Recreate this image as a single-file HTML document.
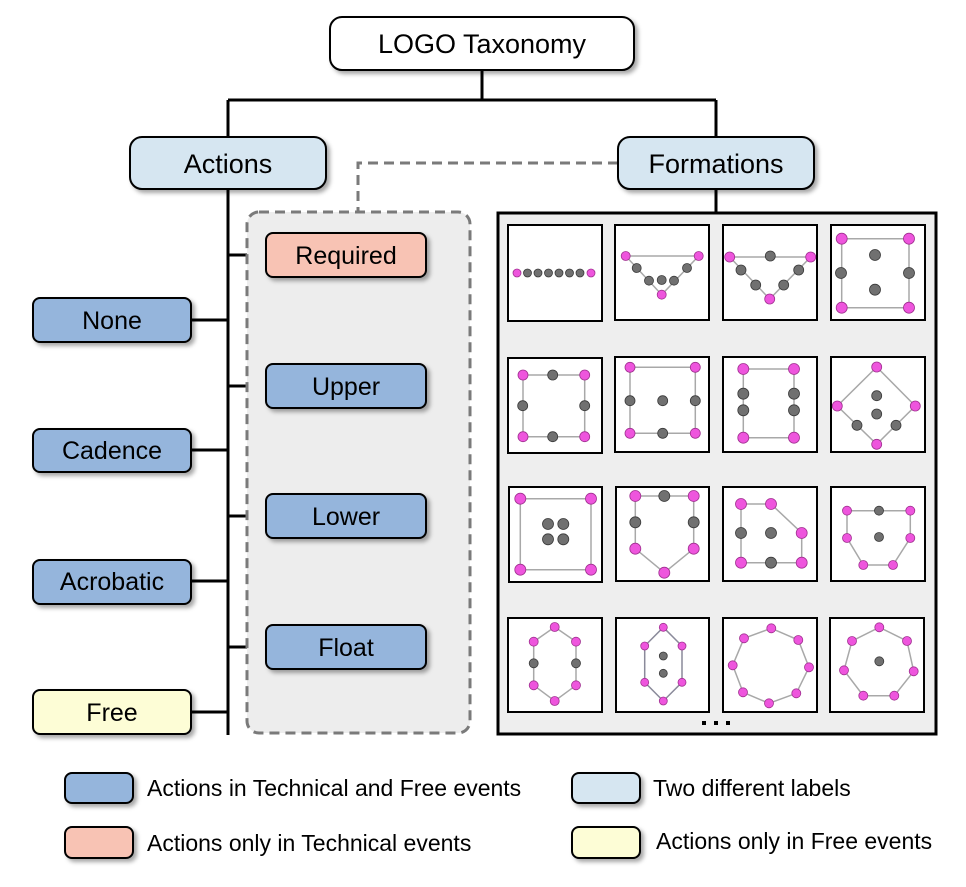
<!DOCTYPE html>
<html><head><meta charset="utf-8"><style>
body{margin:0;background:#fff}
svg{display:block}
text{font-family:"Liberation Sans",Arial,sans-serif;fill:#000}
.p{fill:#ee55dd;stroke:#a03090;stroke-width:0.8}
.g{fill:#707070;stroke:#3a3a3a;stroke-width:0.8}
.l{fill:none;stroke:#a8a8a8;stroke-width:1.5}
.t{fill:#fff;stroke:#000;stroke-width:2}
.bx{stroke:#000;stroke-width:2}
</style></head><body>
<svg width="966" height="887" viewBox="0 0 966 887" xmlns="http://www.w3.org/2000/svg">
<defs><filter id="sh" x="-10%" y="-10%" width="130%" height="140%"><feDropShadow dx="3" dy="3" stdDeviation="2" flood-color="#000" flood-opacity="0.35"/></filter></defs>

<g stroke="#000" stroke-width="3" fill="none">
<path d="M482 70V100M228 100H716M228 100V137M716 100V137M716 189V212M228 189V735"/>
<path d="M191 320H228M191 450H228M191 581H228M191 712H228M228 255H266M228 386H266M228 516H266M228 647H266"/>
</g>
<rect x="247" y="212" width="223" height="521" rx="12" fill="#ededed" stroke="#7a7a7a" stroke-width="3" stroke-dasharray="10,6"/>
<path d="M618 163H358V212" stroke="#7a7a7a" stroke-width="3" stroke-dasharray="10,6" fill="none"/>

<g filter="url(#sh)" class="bx">
<rect x="330" y="17" width="304" height="53" rx="12" fill="#fff"/>
<rect x="130" y="137" width="196" height="52" rx="12" fill="#d6e6f1"/>
<rect x="618" y="137" width="196" height="52" rx="12" fill="#d6e6f1"/>
<rect x="33" y="298" width="158" height="44" rx="7" fill="#95b5dc"/>
<rect x="33" y="429" width="158" height="43" rx="7" fill="#95b5dc"/>
<rect x="33" y="560" width="158" height="44" rx="7" fill="#95b5dc"/>
<rect x="33" y="690" width="158" height="44" rx="7" fill="#fdfdd6"/>
<rect x="266" y="233" width="160" height="44" rx="7" fill="#f8c3b4"/>
<rect x="266" y="364" width="160" height="44" rx="7" fill="#95b5dc"/>
<rect x="266" y="494" width="160" height="44" rx="7" fill="#95b5dc"/>
<rect x="266" y="625" width="160" height="44" rx="7" fill="#95b5dc"/>
</g>
<g text-anchor="middle">
<text x="482" y="53" font-size="27">LOGO Taxonomy</text>
<text x="228" y="173" font-size="27">Actions</text>
<text x="716" y="173" font-size="27">Formations</text>
<text x="112" y="329" font-size="25">None</text>
<text x="112" y="459" font-size="25">Cadence</text>
<text x="112" y="590" font-size="25">Acrobatic</text>
<text x="112" y="721" font-size="25">Free</text>
<text x="346" y="264" font-size="25">Required</text>
<text x="346" y="395" font-size="25">Upper</text>
<text x="346" y="525" font-size="25">Lower</text>
<text x="346" y="656" font-size="25">Float</text>
</g>

<rect x="498" y="213" width="438" height="521" fill="#eeeeee" stroke="#000" stroke-width="3"/>
<rect x="702" y="721" width="4" height="4"/><rect x="714" y="721" width="4" height="4"/><rect x="726" y="721" width="4" height="4"/>

<g transform="translate(508,225)"><rect class="t" width="94" height="96"/>
<circle class="p" cx="9" cy="48" r="4"/><circle class="g" cx="19.5" cy="48" r="4"/><circle class="g" cx="30" cy="48" r="4"/><circle class="g" cx="40.5" cy="48" r="4"/><circle class="g" cx="51" cy="48" r="4"/><circle class="g" cx="61.5" cy="48" r="4"/><circle class="g" cx="72" cy="48" r="4"/><circle class="p" cx="83" cy="48" r="4"/></g>
<g transform="translate(615,225)"><rect class="t" width="94" height="95"/>
<path class="l" d="M10.7 31H83.7L46.7 69.7Z"/>
<circle class="p" cx="10.7" cy="31" r="4.5"/><circle class="p" cx="83.7" cy="31" r="4.5"/><circle class="g" cx="21.7" cy="43" r="4.5"/><circle class="g" cx="72" cy="43" r="4.5"/><circle class="g" cx="34" cy="55.7" r="4.5"/><circle class="g" cx="46.7" cy="55" r="4.5"/><circle class="g" cx="59" cy="55.7" r="4.5"/><circle class="p" cx="46.7" cy="69.7" r="4.5"/></g>
<g transform="translate(723,225)"><rect class="t" width="94" height="95"/>
<path class="l" d="M6.7 32H87.7L46.7 74Z"/>
<circle class="p" cx="6.7" cy="32" r="5"/><circle class="p" cx="87.7" cy="32" r="5"/><circle class="g" cx="47.3" cy="31" r="5"/><circle class="g" cx="18" cy="45" r="5"/><circle class="g" cx="32.7" cy="60" r="5"/><circle class="g" cx="60.7" cy="60" r="5"/><circle class="g" cx="75.7" cy="45" r="5"/><circle class="p" cx="46.7" cy="74" r="5"/></g>
<g transform="translate(831,225)"><rect class="t" width="94" height="95"/>
<path class="l" d="M10.7 13.7H78V82.7H10.7Z"/>
<circle class="p" cx="10.7" cy="13.7" r="5.5"/><circle class="p" cx="78" cy="13.7" r="5.5"/><circle class="p" cx="10.7" cy="82.7" r="5.5"/><circle class="p" cx="78" cy="82.7" r="5.5"/><circle class="g" cx="10" cy="48" r="5.5"/><circle class="g" cx="78" cy="48" r="5.5"/><circle class="g" cx="44" cy="30" r="5.5"/><circle class="g" cx="44" cy="64.7" r="5.5"/></g>

<g transform="translate(508,358)"><rect class="t" width="94" height="95"/>
<path class="l" d="M15 17H76.7V78.7H15Z"/>
<circle class="p" cx="15" cy="17" r="5"/><circle class="p" cx="76.7" cy="17" r="5"/><circle class="p" cx="15" cy="78.7" r="5"/><circle class="p" cx="76.7" cy="78.7" r="5"/><circle class="g" cx="44.7" cy="17" r="5"/><circle class="g" cx="44.7" cy="78.7" r="5"/><circle class="g" cx="14.7" cy="47.7" r="5"/><circle class="g" cx="76.7" cy="47.7" r="5"/></g>
<g transform="translate(615,357)"><rect class="t" width="94" height="95"/>
<path class="l" d="M15 10.3H80.3V76.3H15Z"/>
<circle class="p" cx="15" cy="10.3" r="5"/><circle class="p" cx="80.3" cy="10.3" r="5"/><circle class="p" cx="15" cy="76.3" r="5"/><circle class="p" cx="80.3" cy="76.3" r="5"/><circle class="g" cx="15" cy="43.7" r="5"/><circle class="g" cx="47.7" cy="43.7" r="5"/><circle class="g" cx="80.3" cy="43.7" r="5"/><circle class="g" cx="47.7" cy="76.3" r="5"/></g>
<g transform="translate(723,357)"><rect class="t" width="94" height="95"/>
<path class="l" d="M20.3 12H71V80.7H20.3Z"/>
<circle class="p" cx="20.3" cy="12" r="5.5"/><circle class="p" cx="71" cy="12" r="5.5"/><circle class="p" cx="20.3" cy="80.7" r="5.5"/><circle class="p" cx="71" cy="80.7" r="5.5"/><circle class="g" cx="20.3" cy="36.7" r="5.5"/><circle class="g" cx="20.3" cy="53.3" r="5.5"/><circle class="g" cx="71" cy="36.7" r="5.5"/><circle class="g" cx="71" cy="53.3" r="5.5"/></g>
<g transform="translate(831,357)"><rect class="t" width="94" height="95"/>
<path class="l" d="M45.7 10L84.3 49L45.7 87.3L6.3 49Z"/>
<circle class="p" cx="45.7" cy="10" r="5"/><circle class="p" cx="6.3" cy="49" r="5"/><circle class="p" cx="84.3" cy="49" r="5"/><circle class="p" cx="45.7" cy="87.3" r="5"/><circle class="g" cx="45.7" cy="38.7" r="5"/><circle class="g" cx="45.7" cy="57" r="5"/><circle class="g" cx="26" cy="68.3" r="5"/><circle class="g" cx="65" cy="68.3" r="5"/></g>

<g transform="translate(509,487)"><rect class="t" width="93" height="95"/>
<path class="l" d="M11.3 11.7H82V82.7H11.3Z"/>
<circle class="p" cx="11.3" cy="11.7" r="5.5"/><circle class="p" cx="82" cy="11.7" r="5.5"/><circle class="p" cx="11.3" cy="82.7" r="5.5"/><circle class="p" cx="82" cy="82.7" r="5.5"/><circle class="g" cx="39" cy="37" r="5.5"/><circle class="g" cx="54.3" cy="37" r="5.5"/><circle class="g" cx="39" cy="52.3" r="5.5"/><circle class="g" cx="54.3" cy="52.3" r="5.5"/></g>
<g transform="translate(616,487)"><rect class="t" width="93" height="94"/>
<path class="l" d="M19.3 9H77.7V61.7L48.3 85.7L19.3 61.7Z"/>
<circle class="p" cx="19.3" cy="9" r="5.5"/><circle class="p" cx="77.7" cy="9" r="5.5"/><circle class="p" cx="19.3" cy="61.7" r="5.5"/><circle class="p" cx="77.7" cy="61.7" r="5.5"/><circle class="p" cx="48.3" cy="85.7" r="5.5"/><circle class="g" cx="48.3" cy="9" r="5.5"/><circle class="g" cx="19.3" cy="35.3" r="5.5"/><circle class="g" cx="77.7" cy="35.3" r="5.5"/></g>
<g transform="translate(723,487)"><rect class="t" width="94" height="94"/>
<path class="l" d="M18 17H48L78.7 46V75.7H18Z"/>
<circle class="p" cx="18" cy="17" r="5.5"/><circle class="p" cx="48" cy="17" r="5.5"/><circle class="p" cx="78.7" cy="46" r="5.5"/><circle class="p" cx="18" cy="75.7" r="5.5"/><circle class="p" cx="78.7" cy="75.7" r="5.5"/><circle class="g" cx="18" cy="46" r="5.5"/><circle class="g" cx="48" cy="46" r="5.5"/><circle class="g" cx="48" cy="75.7" r="5.5"/></g>
<g transform="translate(831,487)"><rect class="t" width="94" height="94"/>
<path class="l" d="M16 23.7H79.3V51L62 78H32.3L16 51Z"/>
<circle class="p" cx="16" cy="23.7" r="4.5"/><circle class="p" cx="79.3" cy="23.7" r="4.5"/><circle class="p" cx="16" cy="51" r="4.5"/><circle class="p" cx="79.3" cy="51" r="4.5"/><circle class="p" cx="32.3" cy="78" r="4.5"/><circle class="p" cx="62" cy="78" r="4.5"/><circle class="g" cx="48" cy="23.7" r="4.5"/><circle class="g" cx="48" cy="50" r="4.5"/></g>

<g transform="translate(508,618)"><rect class="t" width="94" height="94"/>
<path class="l" d="M46.7 9L68 23.7V67.3L46.7 83L25.7 67.3V23.7Z"/>
<circle class="p" cx="46.7" cy="9" r="4.5"/><circle class="p" cx="25.7" cy="23.7" r="4.5"/><circle class="p" cx="68" cy="23.7" r="4.5"/><circle class="p" cx="25.7" cy="67.3" r="4.5"/><circle class="p" cx="68" cy="67.3" r="4.5"/><circle class="p" cx="46.7" cy="83" r="4.5"/><circle class="g" cx="25.7" cy="45.3" r="4.5"/><circle class="g" cx="68" cy="45.3" r="4.5"/></g>
<g transform="translate(616,618)"><rect class="t" width="93" height="94"/>
<path class="l" d="M47.3 9.3L66 28V64.3L47.3 83L28.7 64.3V28Z" style="stroke:#8a8a9a"/>
<circle class="p" cx="47.3" cy="9.3" r="4"/><circle class="p" cx="28.7" cy="28" r="4"/><circle class="p" cx="66" cy="28" r="4"/><circle class="p" cx="28.7" cy="64.3" r="4"/><circle class="p" cx="66" cy="64.3" r="4"/><circle class="p" cx="47.3" cy="83" r="4"/><circle class="g" cx="47.3" cy="38" r="4"/><circle class="g" cx="47.3" cy="55.3" r="4"/></g>
<g transform="translate(723,618)"><rect class="t" width="94" height="94"/>
<path class="l" d="M48.3 10.3L75.3 22L86 49.3L73.3 75.3L46 85.3L20 74.3L9.7 47.3L21 20.3Z"/>
<circle class="p" cx="48.3" cy="10.3" r="4.5"/><circle class="p" cx="75.3" cy="22" r="4.5"/><circle class="p" cx="86" cy="49.3" r="4.5"/><circle class="p" cx="73.3" cy="75.3" r="4.5"/><circle class="p" cx="46" cy="85.3" r="4.5"/><circle class="p" cx="20" cy="74.3" r="4.5"/><circle class="p" cx="9.7" cy="47.3" r="4.5"/><circle class="p" cx="21" cy="20.3" r="4.5"/></g>
<g transform="translate(830,618)"><rect class="t" width="94" height="94"/>
<path class="l" d="M49.3 9.3L77 23L83.7 53.3L64.3 77.7H33.3L14 52.3L22 23Z"/>
<circle class="p" cx="49.3" cy="9.3" r="4.5"/><circle class="p" cx="77" cy="23" r="4.5"/><circle class="p" cx="83.7" cy="53.3" r="4.5"/><circle class="p" cx="64.3" cy="77.7" r="4.5"/><circle class="p" cx="33.3" cy="77.7" r="4.5"/><circle class="p" cx="14" cy="52.3" r="4.5"/><circle class="p" cx="22" cy="23" r="4.5"/><circle class="g" cx="49.3" cy="43.3" r="4.5"/></g>

<g filter="url(#sh)" class="bx">
<rect x="65" y="773" width="68" height="30" rx="7" fill="#95b5dc"/>
<rect x="65" y="827" width="68" height="31" rx="7" fill="#f8c3b4"/>
<rect x="572" y="773" width="68" height="30" rx="7" fill="#d6e6f1"/>
<rect x="572" y="827" width="68" height="31" rx="7" fill="#fdfdd6"/>
</g>
<g font-size="23">
<text x="147" y="796">Actions in Technical and Free events</text>
<text x="147" y="851">Actions only in Technical events</text>
<text x="653" y="796">Two different labels</text>
<text x="656" y="849">Actions only in Free events</text>
</g>
</svg>
</body></html>
